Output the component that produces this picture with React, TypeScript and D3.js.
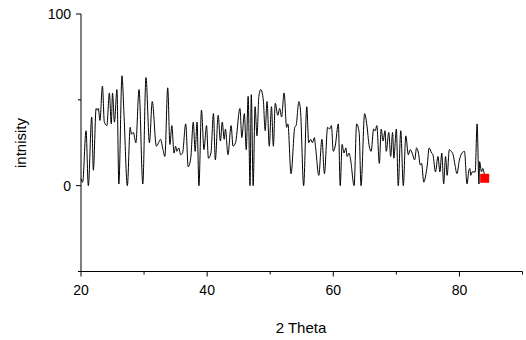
import React from "react";
import * as d3 from "d3";

const twoTheta = [
  20.0, 20.26, 20.8, 21.16, 21.7, 21.96, 22.4, 22.6, 22.75, 23.0, 23.4, 23.7, 24.1, 24.5, 24.8, 25.0, 25.3, 25.7, 26.0, 26.5,
  26.8, 27.35, 27.8, 28.0, 28.3, 28.7, 29.2, 29.8, 30.3, 30.85, 31.3, 31.95, 32.3, 32.6, 33.0, 33.3, 33.75, 34.1, 34.4, 34.75,
  35.0, 35.2, 35.5, 35.8, 36.1, 36.6, 37.0, 37.4, 37.8, 38.1, 38.4, 38.7, 39.1, 39.5, 39.9, 40.2, 40.6, 41.0, 41.3, 41.75,
  42.1, 42.4, 42.7, 42.9, 43.3, 43.8, 44.1, 44.5, 45.2, 45.5, 45.9, 46.2, 46.5, 46.8, 47.0, 47.3, 47.6, 47.9, 48.2, 48.5,
  48.9, 49.2, 49.5, 49.85, 50.2, 50.5, 50.8, 51.2, 51.5, 51.8, 52.2, 52.6, 52.8, 53.3, 53.9, 54.1, 54.55, 54.8, 55.3, 55.8,
  56.1, 56.4, 56.7, 57.0, 57.2, 57.7, 58.2, 58.6, 59.1, 59.4, 59.7, 60.0, 60.3, 60.8, 61.1, 61.4, 61.7, 62.0, 62.2, 62.5,
  62.75, 63.3, 63.7, 64.1, 64.4, 64.97, 65.3, 65.7, 66.0, 66.4, 66.65, 66.9, 67.3, 67.6, 67.9, 68.2, 68.4, 68.8, 69.1, 69.4,
  69.6, 70.0, 70.3, 70.7, 71.1, 71.5, 71.9, 72.2, 72.5, 72.9, 73.2, 73.5, 73.8, 74.0, 74.35, 74.6, 74.9, 75.2, 75.6, 75.8,
  76.2, 76.6, 76.9, 77.2, 77.5, 77.8, 78.05, 78.4, 78.7, 79.0, 79.3, 79.6, 80.0, 80.4, 80.8, 81.2, 81.5, 81.65, 81.8, 82.0,
  82.5, 82.8, 83.1, 83.2, 83.5, 83.7, 84.0,
];

const intensity = [
  4, 2, 32, 0, 40, 9, 45, 44, 45, 38, 58, 37, 35, 54, 36, 54, 37, 56, 1, 64,
  43, 0, 34, 30, 31, 25, 56, 1, 63, 25, 49, 23, 25, 27, 21, 17, 57, 24, 35, 19,
  23, 20, 22, 18, 19, 36, 11, 16, 37, 20, 37, 0, 44, 21, 35, 16, 19, 42, 15, 41,
  26, 37, 27, 33, 18, 35, 23, 25, 45, 28, 42, 21, 52, 0, 53, 0, 46, 29, 52, 56,
  50, 32, 49, 23, 46, 23, 48, 41, 45, 40, 54, 34, 36, 7, 34, 35, 49, 44, 0, 46,
  25, 27, 25, 28, 22, 6, 27, 7, 34, 33, 35, 20, 23, 36, 0, 24, 19, 22, 17, 19,
  15, 0, 36, 31, 0, 42, 36, 23, 20, 33, 32, 35, 13, 33, 26, 32, 20, 31, 17, 31,
  16, 33, 0, 32, 0, 29, 18, 21, 19, 15, 22, 19, 12, 13, 2, 5, 12, 22, 19, 18,
  8, 17, 8, 19, 1, 17, 6, 21, 20, 18, 12, 7, 15, 19, 20, 1, 9, 10, 6, 8,
  8, 36, 1, 14, 8, 10, 5,
];

const markerX = [84.0];
const markerY = [4.3];

const xMajorTicks = [20, 40, 60, 80];
const xMinorTicks = [30, 50, 70, 90];
const yMajorTicks = [0, 100];
const yMinorTicks = [-50, 50];

const xTitle = "2 Theta";
const yTitle = "intnisity";

export default function App() {
  const W = 526;
  const H = 340;
  const x = d3.scaleLinear().domain([20, 90]).range([81, 522.5]);
  const y = d3.scaleLinear().domain([-50, 100]).range([271.5, 14]);
  const pts: [number, number][] = twoTheta.map((t, i) => [t, intensity[i]]);
  const line = d3
    .line<[number, number]>()
    .curve(d3.curveMonotoneX)
    .x((d) => x(d[0]))
    .y((d) => y(d[1]));
  const font = "'Liberation Sans', Arial, sans-serif";
  const x0 = x(20);
  const yBase = y(-50);
  return (
    <svg
      width={W}
      height={H}
      style={{ position: "absolute", left: 0, top: 0, background: "#fff" }}
      fontFamily={font}
    >
      <rect width={W} height={H} fill="#fff" />
      <line x1={x0} x2={x0} y1={y(100)} y2={yBase} stroke="#000" strokeWidth={1} />
      <line x1={x0} x2={x(90)} y1={yBase} y2={yBase} stroke="#000" strokeWidth={1} />
      {yMajorTicks.map((v) => (
        <g key={"ym" + v}>
          <line x1={x0 - 5} x2={x0} y1={y(v)} y2={y(v)} stroke="#000" />
          <text x={x0 - 10} y={y(v)} dy="0.35em" textAnchor="end" fontSize={14}>
            {v}
          </text>
        </g>
      ))}
      {yMinorTicks.map((v) => (
        <line key={"yn" + v} x1={x0 - 3} x2={x0} y1={y(v)} y2={y(v)} stroke="#000" />
      ))}
      {xMajorTicks.map((v) => (
        <g key={"xm" + v}>
          <line x1={x(v)} x2={x(v)} y1={yBase} y2={yBase + 5} stroke="#000" />
          <text x={x(v)} y={yBase + 23} textAnchor="middle" fontSize={14}>
            {v}
          </text>
        </g>
      ))}
      {xMinorTicks.map((v) => (
        <line key={"xn" + v} x1={x(v)} x2={x(v)} y1={yBase} y2={yBase + 3} stroke="#000" />
      ))}
      <text x={301} y={333} textAnchor="middle" fontSize={15}>
        {xTitle}
      </text>
      <text transform={`translate(26,143) rotate(-90)`} textAnchor="middle" fontSize={15}>
        {yTitle}
      </text>
      <path d={line(pts) || ""} fill="none" stroke="#000" strokeWidth={1} strokeLinejoin="round" />
      {markerX.map((mx, i) => (
        <rect
          key={"mk" + i}
          x={x(mx) - 4.5}
          y={y(markerY[i]) - 4.5}
          width={9}
          height={9}
          fill="#ff0000"
        />
      ))}
    </svg>
  );
}
